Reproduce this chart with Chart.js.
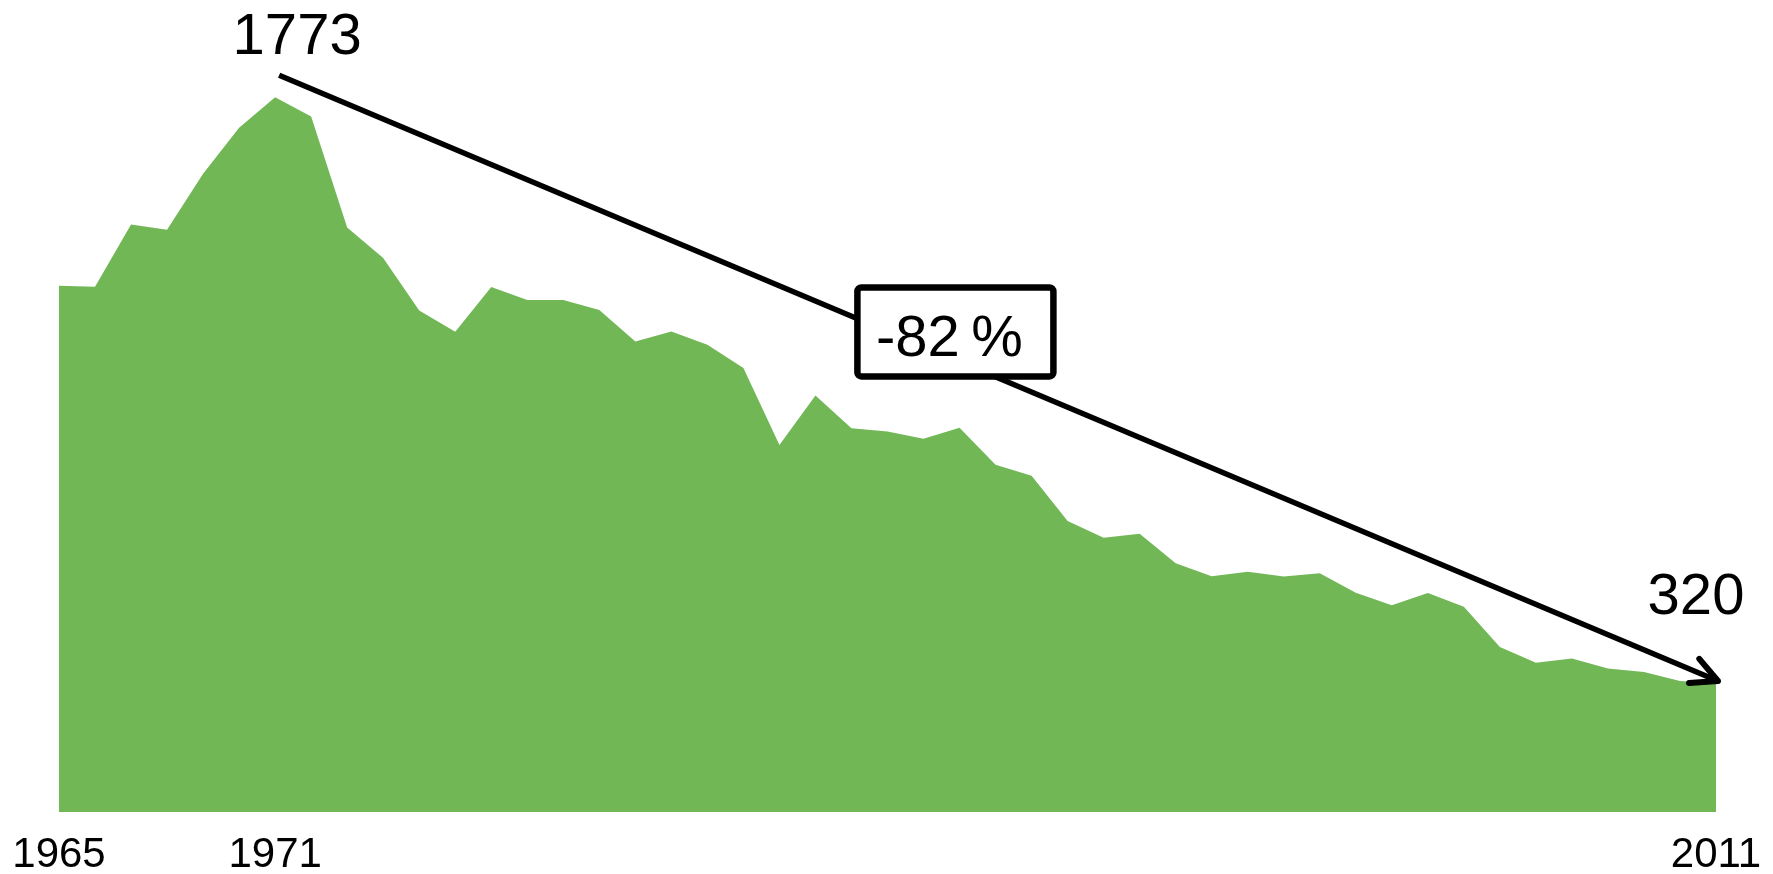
<!DOCTYPE html>
<html>
<head>
<meta charset="utf-8">
<script src="https://cdn.jsdelivr.net/npm/chart.js@4.4.0/dist/chart.umd.min.js"></script>
<style>
  html, body { margin: 0; padding: 0; background: #fff; }
  canvas { display: block; }
</style>
</head>
<body>
<canvas id="areaChart" width="1773" height="874"></canvas>
<script>
// years 1965 - 2011
const years = [
  1965, 1966, 1967, 1968, 1969, 1970, 1971, 1972, 1973, 1974,
  1975, 1976, 1977, 1978, 1979, 1980, 1981, 1982, 1983, 1984,
  1985, 1986, 1987, 1988, 1989, 1990, 1991, 1992, 1993, 1994,
  1995, 1996, 1997, 1998, 1999, 2000, 2001, 2002, 2003, 2004,
  2005, 2006, 2007, 2008, 2009, 2010, 2011,
];
// values
const values = [
  1305, 1303, 1457, 1444, 1583, 1697, 1773, 1725, 1450, 1374,
  1244, 1191, 1302, 1270, 1270, 1245, 1167, 1192, 1159, 1101,
  910, 1033, 952, 944, 926, 953, 861, 834, 722, 680,
  690, 617, 585, 596, 584, 592, 544, 513, 543, 509,
  409, 370, 381, 356, 347, 325, 320,
];
// only these years get a label on the x axis
const tickYears = [1965, 1971, 2011];
// arrow from peak to last year
const arrowFrom = 1971;
const arrowTo = 2011;
const changeText = "-82\u2009%";

const green = "#71b756";

// draws the arrow, the end values and the percent box
const arrowPlugin = {
  id: "arrowNote",
  afterDatasetsDraw(chart) {
    const ctx = chart.ctx;
    const xs = chart.scales.x;
    const ys = chart.scales.y;
    const i0 = years.indexOf(arrowFrom);
    const i1 = years.indexOf(arrowTo);
    const p0 = { x: xs.getPixelForValue(i0), y: ys.getPixelForValue(values[i0]) };
    const p1 = { x: xs.getPixelForValue(i1), y: ys.getPixelForValue(values[i1]) };

    const sx = p0.x + 4, sy = p0.y - 22;
    const ex = p1.x + 2, ey = p1.y - 2;

    ctx.save();
    ctx.strokeStyle = "#000";
    ctx.lineWidth = 5.5;
    ctx.lineCap = "butt";
    ctx.beginPath();
    ctx.moveTo(sx, sy);
    ctx.lineTo(ex, ey);
    ctx.stroke();

    // open arrow head
    const ang = Math.atan2(sy - ey, sx - ex);
    const headLen = 29;
    const spread = 27 * Math.PI / 180;
    ctx.lineWidth = 6;
    ctx.lineCap = "round";
    ctx.lineJoin = "round";
    ctx.beginPath();
    ctx.moveTo(ex + headLen * Math.cos(ang - spread), ey + headLen * Math.sin(ang - spread));
    ctx.lineTo(ex, ey);
    ctx.lineTo(ex + headLen * Math.cos(ang + spread), ey + headLen * Math.sin(ang + spread));
    ctx.stroke();

    // end values
    ctx.fillStyle = "#000";
    ctx.font = '58px "Liberation Sans", Arial, sans-serif';
    ctx.textAlign = "center";
    ctx.textBaseline = "alphabetic";
    ctx.fillText(String(values[i0]), p0.x + 22, p0.y - 43);
    ctx.fillText(String(values[i1]), p1.x - 20, p1.y - 69);

    // percent box sitting on the line
    const t = 0.47;
    const cx = sx + (ex - sx) * t;
    const cy = sy + (ey - sy) * t - 28;
    const bw = 196, bh = 89;
    ctx.beginPath();
    ctx.roundRect(cx - bw / 2, cy - bh / 2, bw, bh, 4);
    ctx.fillStyle = "#fff";
    ctx.fill();
    ctx.lineWidth = 6.5;
    ctx.lineJoin = "round";
    ctx.stroke();
    ctx.fillStyle = "#000";
    ctx.fillText(changeText, cx - 6, cy + 24);
    ctx.restore();
  },
};

const ctx = document.getElementById("areaChart").getContext("2d");
new Chart(ctx, {
  type: "line",
  data: {
    labels: years,
    datasets: [
      {
        data: values,
        fill: "origin",
        backgroundColor: green,
        borderWidth: 0,
        borderColor: green,
        pointRadius: 0,
        tension: 0,
      },
    ],
  },
  options: {
    responsive: false,
    animation: false,
    devicePixelRatio: 1,
    layout: { padding: { left: 59, right: 57, top: 0, bottom: 0 } },
    plugins: {
      legend: { display: false },
      tooltip: { enabled: false },
    },
    scales: {
      x: {
        offset: false,
        grid: { display: false, drawTicks: false },
        border: { display: false },
        afterFit: (scale) => {
          scale.height = 62;
          // labels may hang over the edges, padding already covers them
          scale.paddingLeft = 0;
          scale.paddingRight = 0;
        },
        ticks: {
          autoSkip: false,
          maxRotation: 0,
          padding: 18,
          color: "#000",
          font: { family: '"Liberation Sans", Arial, sans-serif', size: 42 },
          callback: function (value) {
            const yr = years[value];
            return tickYears.includes(yr) ? String(yr) : "";
          },
        },
      },
      y: {
        display: false,
        min: 0,
        max: 2014,
      },
    },
  },
  plugins: [arrowPlugin],
});
</script>
</body>
</html>
